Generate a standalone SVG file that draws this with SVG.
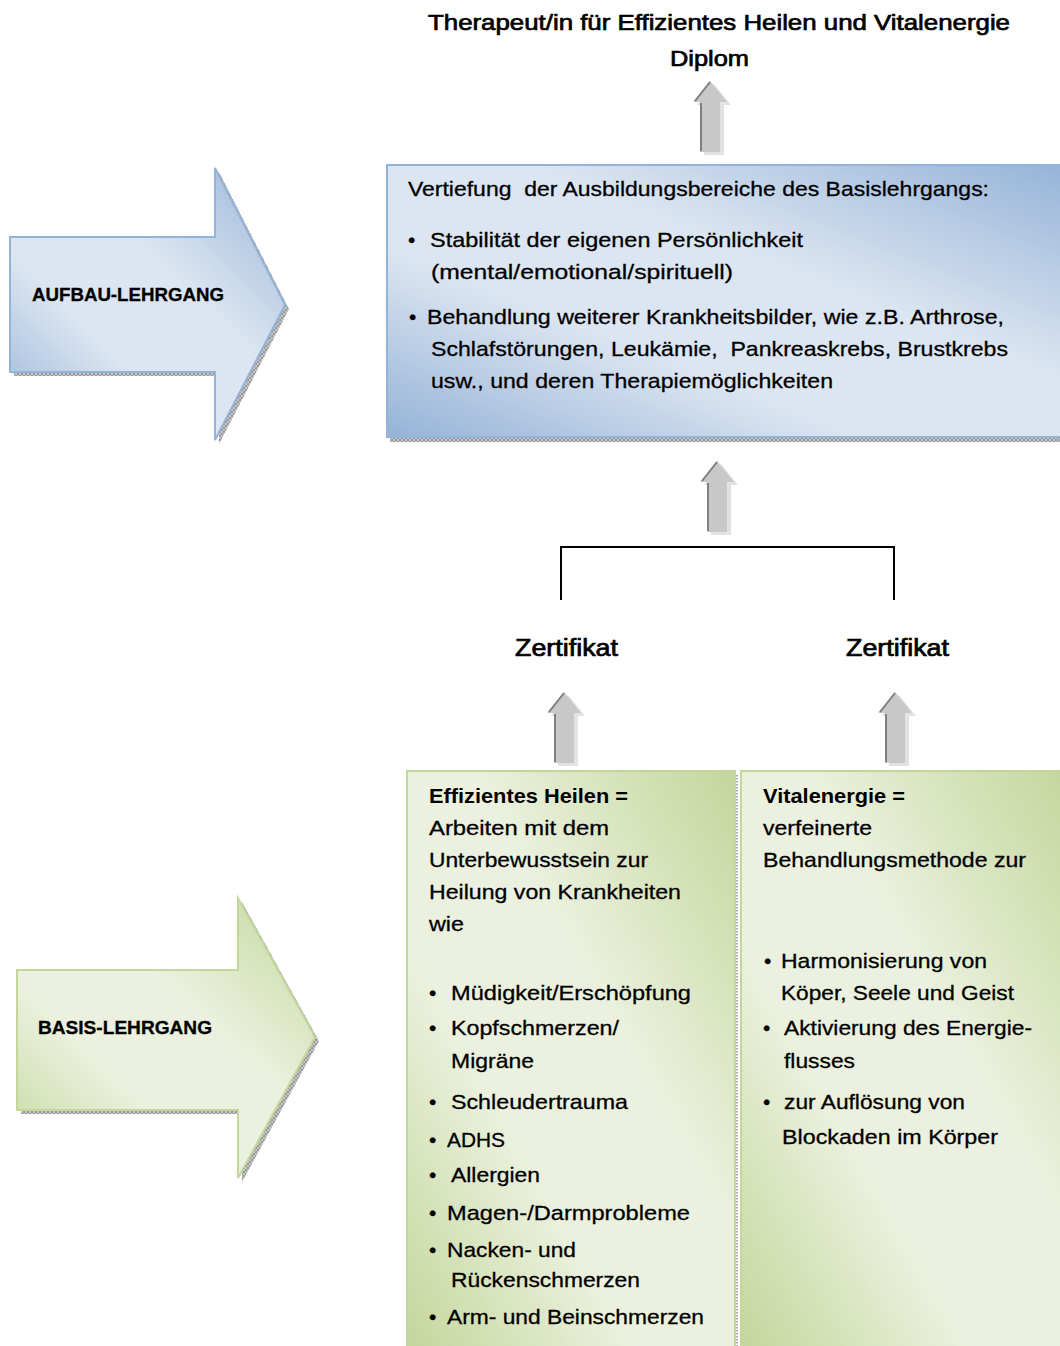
<svg xmlns="http://www.w3.org/2000/svg" width="1060" height="1346" viewBox="0 0 1060 1346">
<style>
text{font-family:"Liberation Sans",Arial,sans-serif;fill:#000;white-space:pre}
.t{font-size:22px;stroke:#000;stroke-width:0.7}
.z{font-size:23px;stroke:#000;stroke-width:0.7}
.b{font-size:21px;stroke:#000;stroke-width:0.3}
.bb{font-size:21px;font-weight:bold}
.lab{font-size:18px;font-weight:bold;stroke:#000;stroke-width:0.3}
.ln{fill:none;stroke:#000;stroke-width:2}
</style>
<defs>
<linearGradient id="gb" x1="0" y1="1" x2="1" y2="0">
<stop offset="0" stop-color="#95b3d7"/>
<stop offset="0.35" stop-color="#dce6f2"/>
<stop offset="0.6" stop-color="#dce6f2"/>
<stop offset="1" stop-color="#95b3d7"/>
</linearGradient>
<linearGradient id="gg" x1="0" y1="1" x2="1" y2="0">
<stop offset="0" stop-color="#c3d69b"/>
<stop offset="0.35" stop-color="#ebf1de"/>
<stop offset="0.6" stop-color="#ebf1de"/>
<stop offset="1" stop-color="#c3d69b"/>
</linearGradient>
<pattern id="hatch" width="4" height="4" patternUnits="userSpaceOnUse">
<rect width="4" height="4" fill="#c8c8c8"/>
<path d="M0 0L4 4M4 0L0 4" stroke="#8a8a8a" stroke-width="0.8"/>
</pattern>
<g id="up">
<polygon points="4,3 21,24 14,24 14,74 -6,74 -6,24 -13,24" fill="#e2e2e2"/>
<polygon points="0,0 17,21 10,21 10,71 -10,71 -10,21 -17,21" fill="#c8c8c8"/>
<polyline points="-15,20 0,1" fill="none" stroke="#7f7f7f" stroke-width="2"/>
<line x1="-9" y1="22" x2="-9" y2="70" stroke="#7f7f7f" stroke-width="2"/>
</g>
</defs>

<g id="title">
<text class="t" x="428" y="30" textLength="582" lengthAdjust="spacingAndGlyphs">Therapeut/in für Effizientes Heilen und Vitalenergie</text>
<text class="t" x="670" y="66" textLength="79" lengthAdjust="spacingAndGlyphs">Diplom</text>
</g>

<g id="aufbau-arrow">
<polygon points="14,241 219,241 219,172 289,309 219,444 219,376 14,376" fill="url(#hatch)"/>
<polygon points="10,237 215,237 215,168 285,305 215,440 215,372 10,372" fill="url(#gb)" stroke="#95b3d7" stroke-width="2"/>
<text class="lab" x="32" y="301" textLength="192" lengthAdjust="spacingAndGlyphs">AUFBAU-LEHRGANG</text>
</g>

<g id="aufbau-box">
<rect x="390" y="436" width="670" height="6" fill="url(#hatch)"/>
<rect x="387" y="165" width="680" height="272" fill="url(#gb)" stroke="#95b3d7" stroke-width="2"/>
<text class="b" x="408" y="196" textLength="581" lengthAdjust="spacingAndGlyphs">Vertiefung  der Ausbildungsbereiche des Basislehrgangs:</text>
<text class="b" x="408" y="247">•</text>
<text class="b" x="430" y="247" textLength="373" lengthAdjust="spacingAndGlyphs">Stabilität der eigenen Persönlichkeit</text>
<text class="b" x="431" y="279" textLength="302" lengthAdjust="spacingAndGlyphs">(mental/emotional/spirituell)</text>
<text class="b" x="409" y="324">•</text>
<text class="b" x="427" y="324" textLength="577" lengthAdjust="spacingAndGlyphs">Behandlung weiterer Krankheitsbilder, wie z.B. Arthrose,</text>
<text class="b" x="431" y="356" textLength="577" lengthAdjust="spacingAndGlyphs">Schlafstörungen, Leukämie,  Pankreaskrebs, Brustkrebs</text>
<text class="b" x="431" y="388" textLength="402" lengthAdjust="spacingAndGlyphs">usw., und deren Therapiemöglichkeiten</text>
</g>

<g id="zertifikate">
<text class="z" x="515" y="656" textLength="103" lengthAdjust="spacingAndGlyphs">Zertifikat</text>
<text class="z" x="846" y="656" textLength="103" lengthAdjust="spacingAndGlyphs">Zertifikat</text>
</g>

<g id="basis-arrow">
<polygon points="21,974 242,974 242,902 319,1041 242,1182 242,1114 21,1114" fill="url(#hatch)"/>
<polygon points="17,970 238,970 238,898 315,1037 238,1178 238,1110 17,1110" fill="url(#gg)" stroke="#c3d69b" stroke-width="2"/>
<text class="lab" x="38" y="1034" textLength="174" lengthAdjust="spacingAndGlyphs">BASIS-LEHRGANG</text>
</g>

<g id="effizientes-heilen">
<line x1="737" y1="775" x2="737" y2="1346" stroke="#909090" stroke-width="1.5" stroke-dasharray="1.5 1.5"/>
<rect x="407" y="771" width="328" height="580" fill="url(#gg)" stroke="#c3d69b" stroke-width="2"/>
<text class="bb" x="429" y="803" textLength="199" lengthAdjust="spacingAndGlyphs">Effizientes Heilen =</text>
<text class="b" x="429" y="835" textLength="180" lengthAdjust="spacingAndGlyphs">Arbeiten mit dem</text>
<text class="b" x="429" y="867" textLength="219" lengthAdjust="spacingAndGlyphs">Unterbewusstsein zur</text>
<text class="b" x="429" y="899" textLength="252" lengthAdjust="spacingAndGlyphs">Heilung von Krankheiten</text>
<text class="b" x="429" y="931" textLength="35" lengthAdjust="spacingAndGlyphs">wie</text>
<text class="b" x="429" y="1000">•</text>
<text class="b" x="451" y="1000" textLength="240" lengthAdjust="spacingAndGlyphs">Müdigkeit/Erschöpfung</text>
<text class="b" x="429" y="1035">•</text>
<text class="b" x="451" y="1035" textLength="168" lengthAdjust="spacingAndGlyphs">Kopfschmerzen/</text>
<text class="b" x="451" y="1068" textLength="83" lengthAdjust="spacingAndGlyphs">Migräne</text>
<text class="b" x="429" y="1109">•</text>
<text class="b" x="451" y="1109" textLength="177" lengthAdjust="spacingAndGlyphs">Schleudertrauma</text>
<text class="b" x="429" y="1147">•</text>
<text class="b" x="447" y="1147" textLength="58" lengthAdjust="spacingAndGlyphs">ADHS</text>
<text class="b" x="429" y="1182">•</text>
<text class="b" x="451" y="1182" textLength="89" lengthAdjust="spacingAndGlyphs">Allergien</text>
<text class="b" x="429" y="1220">•</text>
<text class="b" x="447" y="1220" textLength="243" lengthAdjust="spacingAndGlyphs">Magen-/Darmprobleme</text>
<text class="b" x="429" y="1257">•</text>
<text class="b" x="447" y="1257" textLength="129" lengthAdjust="spacingAndGlyphs">Nacken- und</text>
<text class="b" x="451" y="1287" textLength="189" lengthAdjust="spacingAndGlyphs">Rückenschmerzen</text>
<text class="b" x="429" y="1324">•</text>
<text class="b" x="447" y="1324" textLength="257" lengthAdjust="spacingAndGlyphs">Arm- und Beinschmerzen</text>
</g>

<g id="vitalenergie">
<rect x="741" y="771" width="330" height="580" fill="url(#gg)" stroke="#c3d69b" stroke-width="2"/>
<text class="bb" x="763" y="803" textLength="142" lengthAdjust="spacingAndGlyphs">Vitalenergie =</text>
<text class="b" x="763" y="835" textLength="109" lengthAdjust="spacingAndGlyphs">verfeinerte</text>
<text class="b" x="763" y="867" textLength="263" lengthAdjust="spacingAndGlyphs">Behandlungsmethode zur</text>
<text class="b" x="764" y="968">•</text>
<text class="b" x="781" y="968" textLength="206" lengthAdjust="spacingAndGlyphs">Harmonisierung von</text>
<text class="b" x="781" y="1000" textLength="233" lengthAdjust="spacingAndGlyphs">Köper, Seele und Geist</text>
<text class="b" x="763" y="1035">•</text>
<text class="b" x="784" y="1035" textLength="248" lengthAdjust="spacingAndGlyphs">Aktivierung des Energie-</text>
<text class="b" x="784" y="1068" textLength="71" lengthAdjust="spacingAndGlyphs">flusses</text>
<text class="b" x="763" y="1109">•</text>
<text class="b" x="784" y="1109" textLength="181" lengthAdjust="spacingAndGlyphs">zur Auflösung von</text>
<text class="b" x="782" y="1144" textLength="216" lengthAdjust="spacingAndGlyphs">Blockaden im Körper</text>
</g>

<g id="connectors">
<use href="#up" transform="translate(710,81)"/>
<use href="#up" transform="translate(717,461)"/>
<polyline class="ln" points="561,600 561,547 894,547 894,600"/>
<use href="#up" transform="translate(564,692)"/>
<use href="#up" transform="translate(895,692)"/>
</g>
</svg>
